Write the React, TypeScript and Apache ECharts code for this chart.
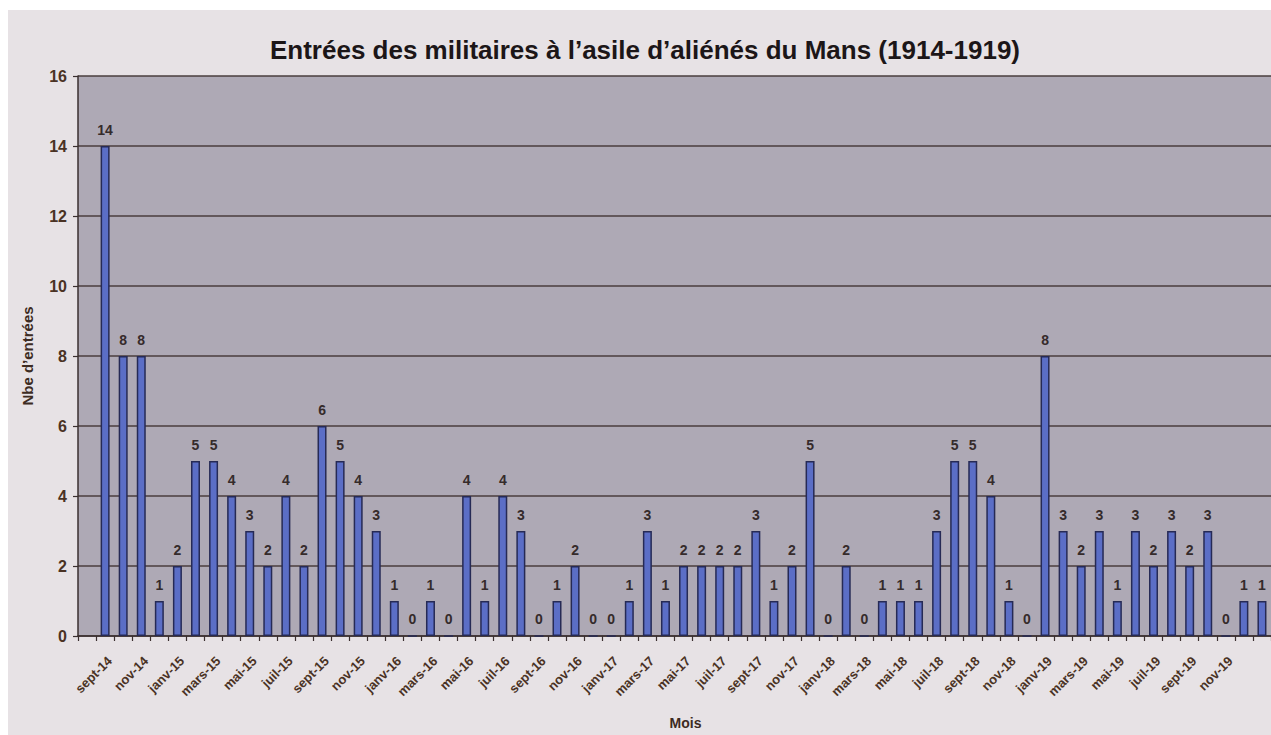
import React, { useEffect, useRef } from "react";
import * as echarts from "echarts";

const TITLE = "Entrées des militaires à l’asile d’aliénés du Mans (1914-1919)";
const Y_NAME = "Nbe d’entrées";
const X_NAME = "Mois";

const monthNames = ["janv", "févr", "mars", "avr", "mai", "juin", "juil", "août", "sept", "oct", "nov", "déc"];

// months shown for 1914 start in August (empty slot), then full years, and the first month of 1920 (cut off at the edge)
const months1914 = ["août-14", "sept-14", "oct-14", "nov-14", "déc-14"];
const values1914: (number | null)[] = [null, 14, 8, 8, 1];
const values1915 = [2, 5, 5, 4, 3, 2, 4, 2, 6, 5, 4, 3];
const values1916 = [1, 0, 1, 0, 4, 1, 4, 3, 0, 1, 2, 0];
const values1917 = [0, 1, 3, 1, 2, 2, 2, 2, 3, 1, 2, 5];
const values1918 = [0, 2, 0, 1, 1, 1, 3, 5, 5, 4, 1, 0];
const values1919 = [8, 3, 2, 3, 1, 3, 2, 3, 2, 3, 0, 1];
const months1920 = ["janv-20"];
const values1920 = [1];

const yTicks = { min: 0, max: 16, interval: 2 };

const categories: string[] = [
  ...months1914,
  ...["15", "16", "17", "18", "19"].flatMap((y) => monthNames.map((m) => `${m}-${y}`)),
  ...months1920,
];
const values: (number | null)[] = [
  ...values1914,
  ...values1915,
  ...values1916,
  ...values1917,
  ...values1918,
  ...values1919,
  ...values1920,
];

const FONT = "'Liberation Sans', Arial, sans-serif";

export default function App() {
  const ref = useRef<HTMLDivElement>(null);
  useEffect(() => {
    if (!ref.current) return;
    const chart = echarts.init(ref.current, null, { renderer: "svg" });
    const lastIdx = categories.length - 1;
    chart.setOption({
      animation: false,
      backgroundColor: "#ffffff",
      graphic: [
        {
          type: "rect",
          z: -10,
          silent: true,
          shape: { x: 8, y: 10, width: 1300, height: 800 },
          style: { fill: "#e7e2e5" },
        },
      ],
      title: {
        text: TITLE,
        left: 640,
        textAlign: "center",
        top: 32,
        textStyle: {
          fontFamily: FONT,
          fontWeight: "bold",
          fontSize: 26,
          color: "#1c1618",
        },
      },
      grid: {
        left: 78,
        right: -8,
        top: 76,
        bottom: 99,
        show: true,
        backgroundColor: "#aea9b5",
        borderWidth: 0,
        containLabel: false,
      },
      xAxis: {
        type: "category",
        data: categories,
        name: X_NAME,
        nameLocation: "middle",
        nameGap: 80,
        nameTextStyle: {
          fontFamily: FONT,
          fontWeight: "bold",
          fontSize: 14,
          color: "#3d2b22",
          verticalAlign: "top",
          padding: [0, 0, 0, 22],
        },
        axisLine: { show: true, lineStyle: { color: "#3a2f2f", width: 1.5 } },
        axisTick: {
          show: true,
          interval: 0,
          alignWithLabel: false,
          length: 5,
          lineStyle: { color: "#3a2f2f", width: 1.2 },
        },
        axisLabel: {
          interval: (i: number) => i % 2 === 1 && i < lastIdx,
          rotate: 45,
          verticalAlign: "top",
          margin: 18,
          fontFamily: FONT,
          fontWeight: "bold",
          fontSize: 13,
          color: "#4a3224",
        },
        splitLine: { show: false },
      },
      yAxis: {
        type: "value",
        min: yTicks.min,
        max: yTicks.max,
        interval: yTicks.interval,
        name: Y_NAME,
        nameLocation: "middle",
        nameGap: 43,
        nameTextStyle: {
          fontFamily: FONT,
          fontWeight: "bold",
          fontSize: 15,
          color: "#3d2b22",
        },
        axisLine: { show: true, lineStyle: { color: "#3a2f2f", width: 1.5 } },
        axisTick: { show: true, length: 5, lineStyle: { color: "#3a2f2f", width: 1.2 } },
        axisLabel: {
          margin: 11,
          fontFamily: FONT,
          fontWeight: "bold",
          fontSize: 16,
          color: "#4a3224",
        },
        splitLine: { show: true, lineStyle: { color: "#4a3e3e", width: 1.5 } },
      },
      series: [
        {
          type: "bar",
          data: values,
          barWidth: 9,
          itemStyle: {
            color: "#5b6ec6",
            borderColor: "#262a55",
            borderWidth: 1.5,
          },
          label: {
            show: true,
            position: "top",
            distance: 9,
            fontFamily: FONT,
            fontWeight: "bold",
            fontSize: 14,
            color: "#352b2b",
          },
        },
      ],
    });
    return () => chart.dispose();
  }, []);
  return (
    <div
      ref={ref}
      style={{ position: "absolute", left: 0, top: 0, width: 1271, height: 735 }}
    />
  );
}
